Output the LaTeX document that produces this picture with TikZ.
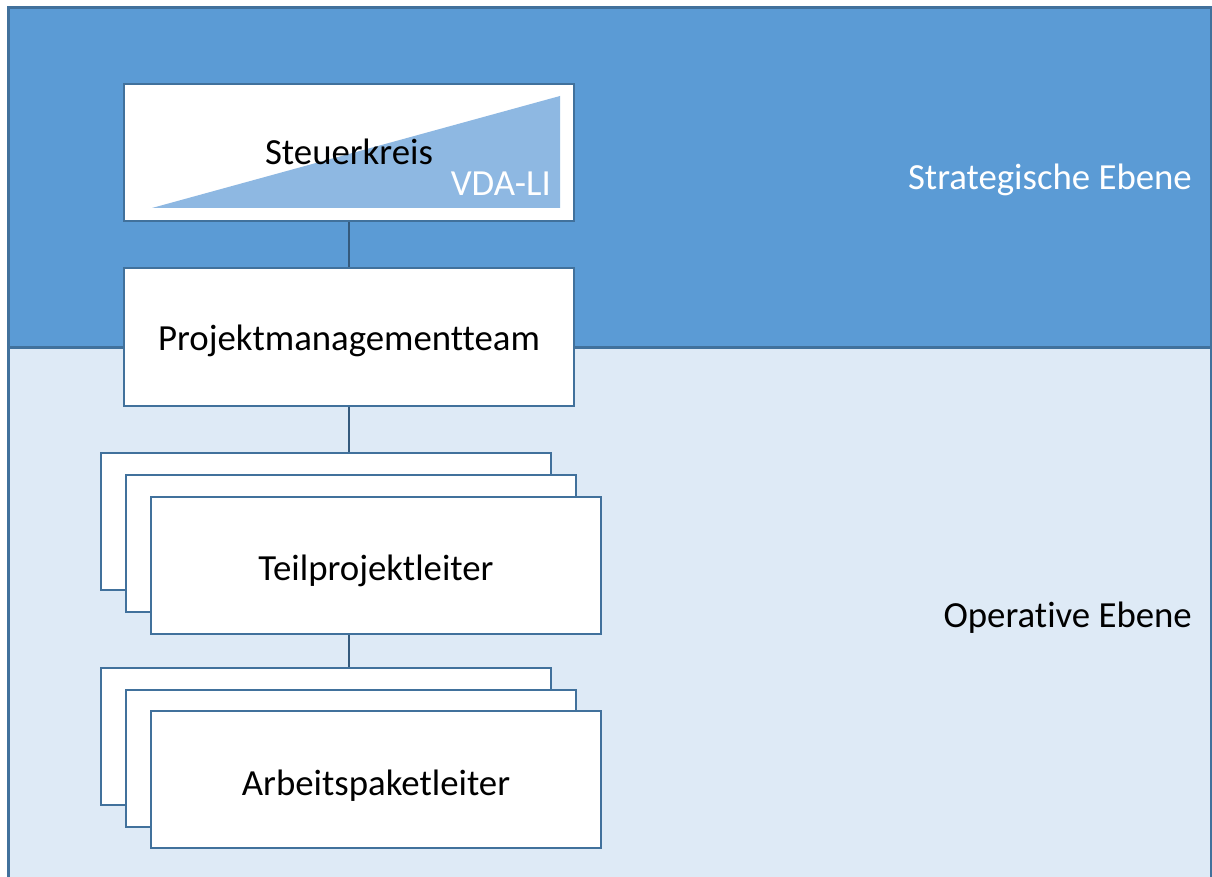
\documentclass[tikz,border=0pt]{standalone}
\usepackage{fontspec}
\setmainfont{Carlito}[Ligatures={NoCommon,NoRequired,NoContextual}]
\definecolor{bandtop}{HTML}{5B9BD5}
\definecolor{bandlow}{HTML}{DEEAF6}
\definecolor{edge}{HTML}{41719C}
\definecolor{tri}{HTML}{8EB8E2}
\begin{document}
\begin{tikzpicture}[x=1pt,y=-1pt,
  box/.style={draw=edge,line width=2pt,fill=white,rectangle,minimum width=450pt,minimum height=137pt,inner sep=0pt},
  conn/.style={draw=edge!80!black,line width=2pt},
  lbl/.style={font=\fontsize{36.8}{44}\selectfont,inner sep=0pt}]
\useasboundingbox (0,0) rectangle (1212,877);
% bands
\fill[bandtop] (8,8) rectangle (1211,347);
\fill[bandlow] (8,347) rectangle (1211,890);
\draw[edge,line width=3pt] (8,890) -- (8,8) -- (1211,8) -- (1211,890);
\draw[edge,line width=3pt] (8,347) -- (1211,347);
% labels of bands
\node[lbl,anchor=base east,text=white] (strat) at (1192,190) {Strategische Ebene};
\node[lbl,anchor=base east,text=black] (oper) at (1192,627) {Operative Ebene};
% Steuerkreis
\node[box] (steuer) at (349,153) {};
\fill[tri] (152,208) -- (560,208) -- (560,96) -- cycle;
\node[lbl,anchor=base] (steuertext) at (349,165) {Steuerkreis};
\node[lbl,anchor=base east,text=white] (vda) at (551,196) {VDA-LI};
% PM team
\node[box] (pm) at (349,337) {};
\node[lbl,anchor=base] (pmtext) at (349,350) {Projektmanagementteam};
% Teilprojektleiter stack
\node[box] (tp1) at (325.5,521.5) {};
\node[box] (tp2) at (351,543.5) {};
\node[box] (tp3) at (376,565.5) {};
\node[lbl,anchor=base] (tptext) at (376,580) {Teilprojektleiter};
% Arbeitspaketleiter stack
\node[box] (ap1) at (325.5,736.5) {};
\node[box] (ap2) at (351,758.5) {};
\node[box] (ap3) at (376,779.5) {};
\node[lbl,anchor=base] (aptext) at (376,795) {Arbeitspaketleiter};
% connectors
\draw[conn] (steuer.south) -- (pm.north);
\draw[conn] (pm.south) -- (pm.south |- tp1.north);
\draw[conn] (tp3.south -| pm.south) -- (pm.south |- ap1.north);
\end{tikzpicture}
\end{document}
